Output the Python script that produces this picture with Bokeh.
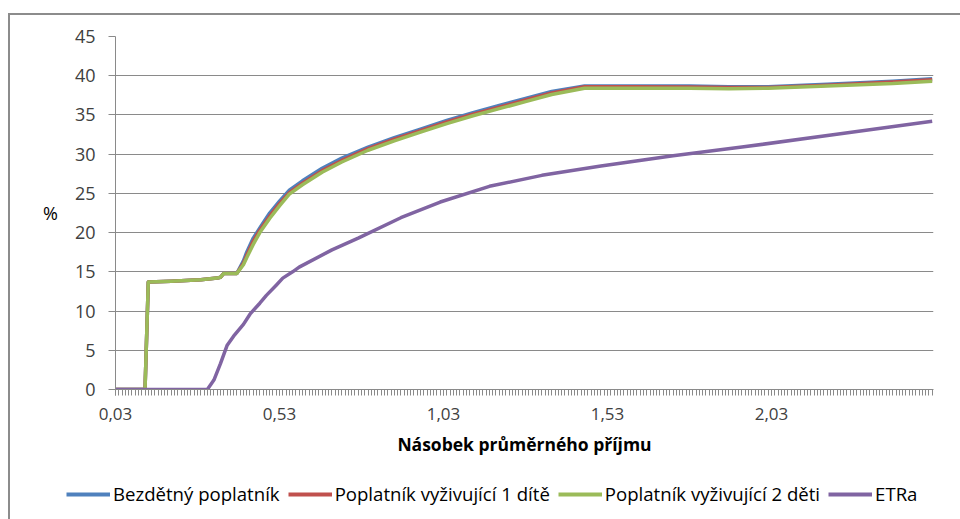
from bokeh.plotting import figure
from bokeh.layouts import column
from bokeh.models import Range1d, FixedTicker, CustomJSTickFormatter, Legend, LegendItem
from bokeh.embed import file_html
from bokeh.resources import INLINE

# Multiple of average income (x) and tax rate in % (y)
x_main = [0.03, 0.12, 0.13, 0.20, 0.29, 0.34, 0.35, 0.36, 0.40, 0.42, 0.43,
          0.45, 0.47, 0.50, 0.53, 0.56, 0.60, 0.66, 0.72, 0.80, 0.88, 0.96,
          1.04, 1.12, 1.20, 1.28, 1.36, 1.46, 1.60, 1.78, 1.90, 2.02, 2.20,
          2.40, 2.52]
bezdetny = [0, 0, 13.7, 13.8, 14.0, 14.2, 14.3, 14.8, 14.8, 16.4, 17.5,
            19.3, 20.6, 22.5, 24.0, 25.4, 26.6, 28.2, 29.5, 30.9, 32.1, 33.2,
            34.3, 35.3, 36.2, 37.1, 38.0, 38.7, 38.7, 38.7, 38.6, 38.6, 38.9,
            39.3, 39.6]
jedno_dite = [0, 0, 13.7, 13.8, 14.0, 14.2, 14.3, 14.8, 14.8, 16.1, 17.1,
              18.9, 20.3, 22.1, 23.7, 25.1, 26.3, 27.9, 29.2, 30.7, 31.9, 33.0,
              34.1, 35.1, 36.0, 36.9, 37.8, 38.6, 38.6, 38.55, 38.5, 38.5, 38.8,
              39.2, 39.5]
dve_deti = [0, 0, 13.7, 13.8, 14.0, 14.2, 14.3, 14.8, 14.8, 15.9, 16.8,
            18.5, 20.0, 21.8, 23.4, 24.9, 26.1, 27.7, 29.0, 30.5, 31.7, 32.8,
            33.9, 34.9, 35.8, 36.7, 37.6, 38.4, 38.4, 38.4, 38.35, 38.4, 38.7,
            39.0, 39.3]

x_etra = [0.03, 0.31, 0.33, 0.35, 0.37, 0.39, 0.42, 0.44, 0.47, 0.49, 0.52,
          0.54, 0.57, 0.59, 0.69, 0.77, 0.90, 1.02, 1.17, 1.33, 1.51, 1.73,
          1.94, 2.24, 2.52]
etra = [0, 0, 1.2, 3.3, 5.6, 6.8, 8.3, 9.6, 11.0, 12.0, 13.3, 14.2, 15.0,
        15.6, 17.8, 19.3, 21.9, 23.9, 25.9, 27.3, 28.5, 29.8, 30.9, 32.6, 34.2]

x_labels = [0.03, 0.53, 1.03, 1.53, 2.03]
x_categories = [round(0.03 + 0.01 * i, 2) for i in range(250)]
y_ticks = [0, 5, 10, 15, 20, 25, 30, 35, 40, 45]

series = [
    ("Bezdětný poplatník", x_main, bezdetny, "#4F81BD"),
    ("Poplatník vyživující 1 dítě", x_main, jedno_dite, "#C0504D"),
    ("Poplatník vyživující 2 děti", x_main, dve_deti, "#9BBB59"),
    ("ETRa", x_etra, etra, "#8064A2"),
]

FONT = "Open Sans"
TEXT = "#404040"
GRID = "#8a8a8a"
LINE_W = 3.5

# --- chart ---
p = figure(width=950, height=455, output_backend="svg", toolbar_location=None,
           x_range=Range1d(0.03, 2.524), y_range=Range1d(0, 45),
           min_border_left=105, min_border_right=27, min_border_top=21,
           min_border_bottom=81)
p.outline_line_color = None
p.background_fill_color = "white"
p.border_fill_color = "white"

for name, xs, ys, color in series:
    p.line(xs, ys, line_color=color, line_width=LINE_W, line_join="round")

# x axis: a tick per category, labels every 50 categories
p.xaxis.ticker = FixedTicker(ticks=x_labels, minor_ticks=x_categories)
p.xaxis.formatter = CustomJSTickFormatter(
    code="return tick.toFixed(2).replace('.', ',');")
p.xaxis.major_tick_out = 6
p.xaxis.major_tick_in = 0
p.xaxis.minor_tick_out = 6
p.xaxis.minor_tick_in = 0
p.xaxis.major_tick_line_color = GRID
p.xaxis.minor_tick_line_color = GRID
p.xaxis.axis_line_color = GRID
p.xaxis.major_label_standoff = 12
p.xaxis.major_label_text_font = FONT
p.xaxis.major_label_text_font_size = "17px"
p.xaxis.major_label_text_color = TEXT
p.xaxis.axis_label = "Násobek průměrného příjmu"
p.xaxis.axis_label_text_font = FONT
p.xaxis.axis_label_text_font_style = "bold"
p.xaxis.axis_label_text_font_size = "17.5px"
p.xaxis.axis_label_text_color = "#000000"
p.xaxis.axis_label_standoff = 9

p.yaxis.ticker = FixedTicker(ticks=y_ticks)
p.yaxis.major_tick_out = 7
p.yaxis.major_tick_in = 0
p.yaxis.minor_tick_line_color = None
p.yaxis.major_tick_line_color = GRID
p.yaxis.axis_line_color = GRID
p.yaxis.major_label_standoff = 13
p.yaxis.major_label_text_font = FONT
p.yaxis.major_label_text_font_size = "18px"
p.yaxis.major_label_text_color = TEXT
p.yaxis.axis_label = "%"
p.yaxis.axis_label_orientation = "horizontal"
p.yaxis.axis_label_text_font = FONT
p.yaxis.axis_label_text_font_style = "normal"
p.yaxis.axis_label_text_font_size = "18px"
p.yaxis.axis_label_text_color = "#000000"
p.yaxis.axis_label_standoff = 14

p.xgrid.grid_line_color = None
p.ygrid.grid_line_color = GRID
p.ygrid.grid_line_width = 1

# --- legend strip under the chart ---
leg = figure(width=950, height=49, output_backend="svg", toolbar_location=None,
             x_range=Range1d(0, 950), y_range=Range1d(0, 49),
             x_axis_type=None, y_axis_type=None,
             min_border_left=0, min_border_right=0, min_border_top=0,
             min_border_bottom=0)
leg.outline_line_color = None
leg.xgrid.grid_line_color = None
leg.ygrid.grid_line_color = None
leg.background_fill_color = "white"
leg.border_fill_color = "white"

# keep the strip's frame independent of the chart frame above it
for fig in (p, leg):
    if "frame_align" in fig.properties():
        fig.frame_align = False

nan = float("nan")
items = []
for name, xs, ys, color in series:
    r = leg.line(x=[nan], y=[nan], line_color=color, line_width=4)
    items.append(LegendItem(label=name, renderers=[r]))

legend = Legend(items=items, orientation="horizontal", location=(56, 13),
                glyph_width=44, glyph_height=20, label_standoff=3, spacing=8,
                padding=0, margin=0, border_line_color=None,
                background_fill_alpha=0, label_text_font=FONT,
                label_text_font_size="18.6px", label_text_color="#000000")
leg.add_layout(legend, "center")

# grey frame around the whole chart area
page = column(p, leg, spacing=0)
page.styles = {"margin-left": "8px", "margin-top": "13px",
               "border-left": "2px solid #8c8c8c",
               "border-top": "2px solid #8c8c8c"}

open("out.html", "w").write(file_html(page, INLINE))
